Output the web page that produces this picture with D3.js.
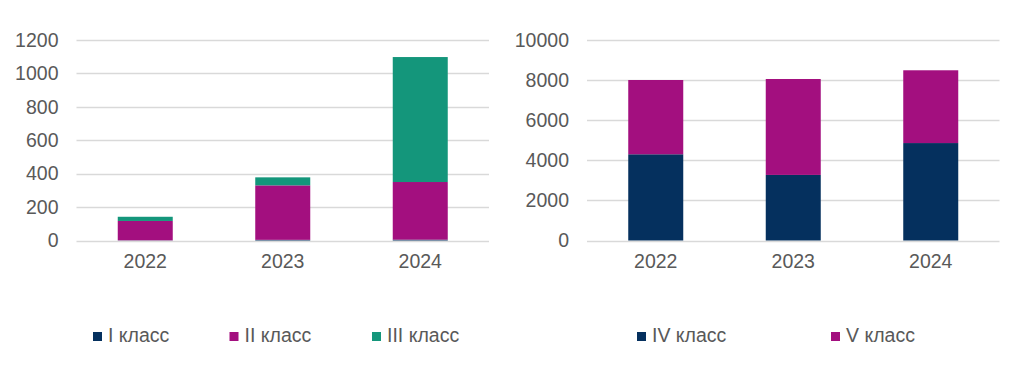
<!DOCTYPE html>
<html lang="ru">
<head>
  <meta charset="UTF-8">
  <title>Классы по годам</title>
  <style>
    body, html {
      margin: 0;
      padding: 0;
      background: #fff;
      font-family: "Liberation Sans", Arial, sans-serif;
    }
    #svg {
      display: block;
    }
  </style>
</head>
<body>
  <svg id="svg" width="1024" height="366"></svg>

  <script src="https://cdn.jsdelivr.net/npm/d3@7"></script>
  <script>
    const years = ['2022', '2023', '2024'];

    // left chart
    const class1 = [1, 4, 5];
    const class2 = [116, 326, 345];
    const class3 = [25, 48, 748];
    const leftTicks = [0, 200, 400, 600, 800, 1000, 1200];

    // right chart
    const class4 = [4300, 3270, 4860];
    const class5 = [3705, 4785, 3630];
    const rightTicks = [0, 2000, 4000, 6000, 8000, 10000];

    const colors = {
      navy: '#05305E',
      magenta: '#A30F7F',
      teal: '#14967B'
    };

    const svg = d3.select('#svg');
    const plotTop = 40, plotBottom = 240.5;
    const fontSize = '19.5px';

    function drawPanel(opts) {
      const { x0, x1, series, ticks, labels, legendX } = opts;
      const g = svg.append('g');

      const xScale = d3.scaleBand()
        .domain(years)
        .range([x0, x1])
        .paddingInner(0.6)
        .paddingOuter(0.3);

      const yScale = d3.scaleLinear()
        .domain([0, d3.max(ticks)])
        .range([plotBottom, plotTop]);

      // gridlines
      g.append('g')
        .selectAll('line')
        .data(ticks)
        .enter()
        .append('line')
        .attr('x1', x0)
        .attr('x2', x1)
        .attr('y1', d => Math.round(yScale(d)) + 0.5)
        .attr('y2', d => Math.round(yScale(d)) + 0.5)
        .attr('stroke', '#d9d9d9')
        .attr('stroke-width', 1.3);

      // y axis labels
      const yAxis = g.append('g')
        .attr('transform', `translate(${x0 - 18},0)`)
        .call(d3.axisLeft(yScale).tickValues(ticks).tickFormat(d3.format('d')).tickSize(0).tickPadding(0));
      yAxis.select('.domain').remove();
      yAxis.selectAll('text')
        .attr('fill', '#595959')
        .style('font-size', fontSize)
        .style('font-family', '"Liberation Sans", Arial, sans-serif');

      // x axis labels
      const xAxis = g.append('g')
        .attr('transform', `translate(0,${plotBottom})`)
        .call(d3.axisBottom(xScale).tickSize(0).tickPadding(14));
      xAxis.select('.domain').remove();
      xAxis.selectAll('text')
        .attr('fill', '#595959')
        .style('font-size', fontSize)
        .style('font-family', '"Liberation Sans", Arial, sans-serif');

      // stacked bars
      const rows = years.map((y, i) => {
        const r = { year: y };
        series.forEach((s, k) => { r['s' + k] = s.values[i]; });
        return r;
      });
      const stack = d3.stack().keys(series.map((s, k) => 's' + k))(rows);

      g.append('g')
        .selectAll('g')
        .data(stack)
        .enter()
        .append('g')
        .attr('fill', (d, k) => series[k].color)
        .selectAll('rect')
        .data(d => d)
        .enter()
        .append('rect')
        .attr('x', d => xScale(d.data.year))
        .attr('width', xScale.bandwidth())
        .attr('y', d => yScale(d[1]))
        .attr('height', d => yScale(d[0]) - yScale(d[1]));

      // legend
      const leg = g.append('g')
        .selectAll('g')
        .data(series)
        .enter()
        .append('g')
        .attr('transform', (d, k) => `translate(${legendX[k]},0)`);
      leg.append('rect')
        .attr('x', 0)
        .attr('y', 332)
        .attr('width', 9)
        .attr('height', 9)
        .attr('fill', d => d.color);
      leg.append('text')
        .attr('x', 15)
        .attr('y', 342)
        .attr('fill', '#595959')
        .style('font-size', fontSize)
        .text((d, k) => labels[k]);
    }

    drawPanel({
      x0: 76.5,
      x1: 489,
      ticks: leftTicks,
      series: [
        { values: class1, color: colors.navy },
        { values: class2, color: colors.magenta },
        { values: class3, color: colors.teal }
      ],
      labels: ['I класс', 'II класс', 'III класс'],
      legendX: [93, 229.5, 372]
    });

    drawPanel({
      x0: 587,
      x1: 999.5,
      ticks: rightTicks,
      series: [
        { values: class4, color: colors.navy },
        { values: class5, color: colors.magenta }
      ],
      labels: ['IV класс', 'V класс'],
      legendX: [637, 831]
    });
  </script>
</body>
</html>
